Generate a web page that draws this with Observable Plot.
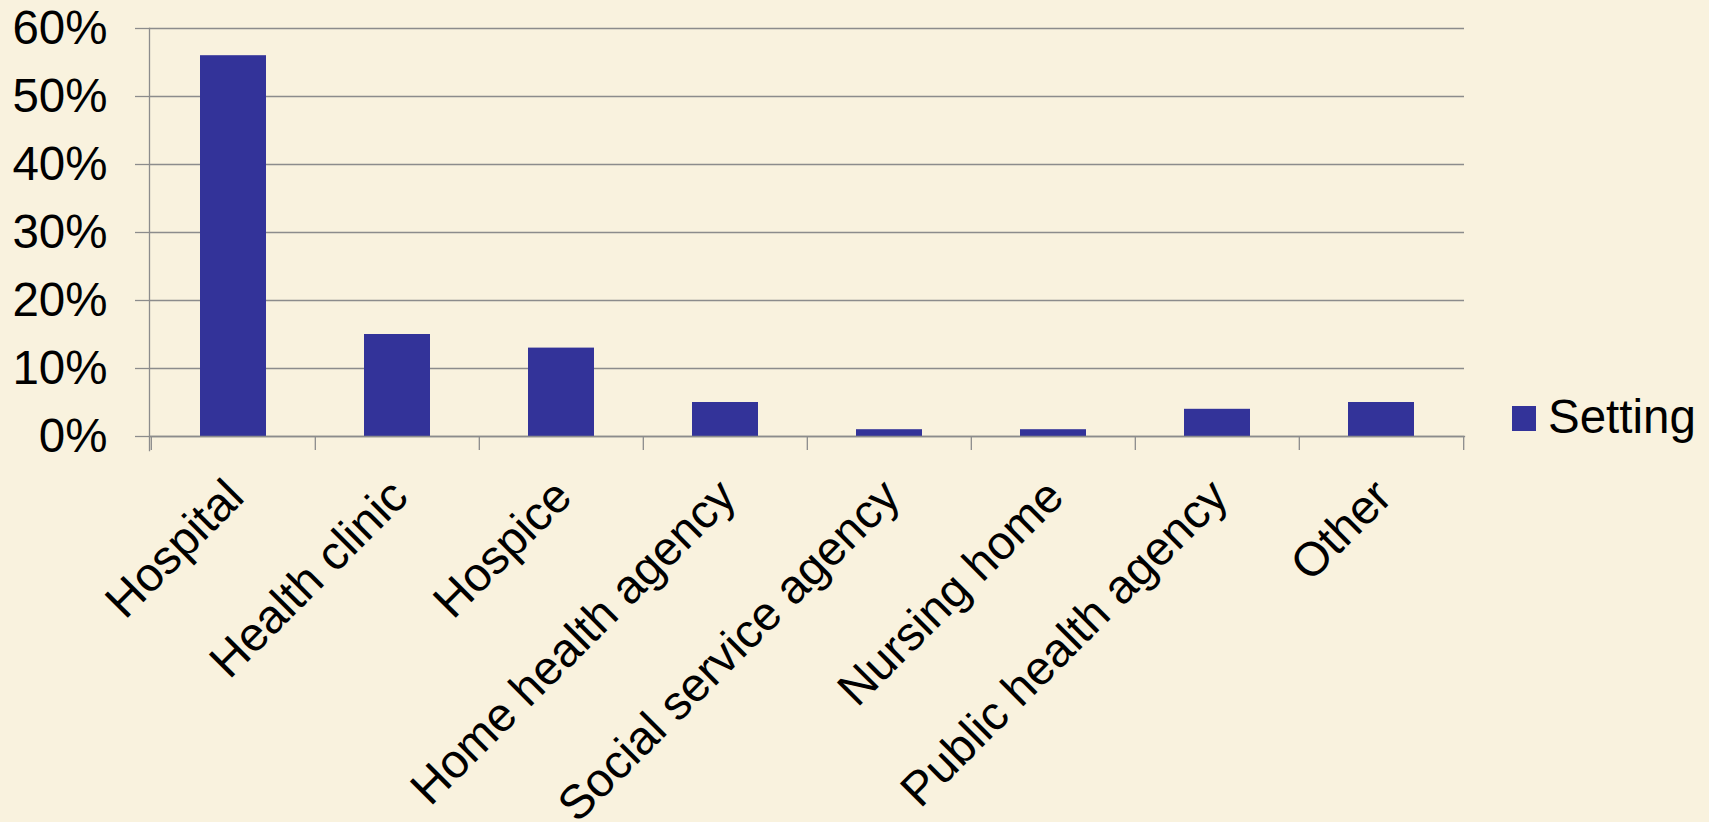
<!DOCTYPE html>
<html><head><meta charset="utf-8">
<script src="https://cdn.jsdelivr.net/npm/d3@7"></script>
<script src="https://cdn.jsdelivr.net/npm/@observablehq/plot@0.6"></script>
<style>
html,body{margin:0;padding:0;background:#F9F2DE;}
#wrap{position:relative;width:1709px;height:822px;font-family:"Liberation Sans",Arial,sans-serif;overflow:hidden;}
#wrap svg{display:block;}
.lg-swatch{position:absolute;left:1512px;top:406px;width:24px;height:25px;background:#333399;}
.lg-text{position:absolute;left:1548px;top:393px;font-size:47.5px;line-height:47.5px;color:#000;white-space:nowrap;}
</style></head><body><div id="wrap"></div>
<script>
const categories = ["Hospital","Health clinic","Hospice","Home health agency","Social service agency","Nursing home","Public health agency","Other"];
const values = [0.56,0.15,0.13,0.05,0.01,0.01,0.04,0.05];
const seriesName = "Setting";
const yTicks = [0,0.1,0.2,0.3,0.4,0.5,0.6];

const W = 1709, H = 822, mL = 149, mR = 245, mT = 28, mB = 386;
const step = (W - mL - mR) / categories.length;
const gray = "#8c8c8c";
const fs = 47.5;
const data = categories.map((c, i) => ({category: c, value: values[i]}));

const chart = Plot.plot({
  width: W, height: H,
  marginLeft: mL, marginRight: mR, marginTop: mT, marginBottom: mB,
  style: {background: "transparent", fontFamily: '"Liberation Sans", Arial, sans-serif', color: "#000"},
  x: {domain: categories, paddingInner: 0.6, paddingOuter: 0.3, axis: null},
  y: {domain: [0, 0.6], axis: null, label: null},
  marks: [
    Plot.gridY(yTicks, {stroke: gray, strokeOpacity: 1, strokeWidth: 1.3}),
    Plot.barY(data, {x: "category", y: "value", fill: "#333399"}),
    Plot.axisY(yTicks, {tickSize: 14, tickPadding: 28, tickFormat: d => Math.round(d * 100) + "%", fontSize: fs, stroke: gray, strokeWidth: 1.3, fill: "#000", label: null}),
    Plot.frame({anchor: "left", stroke: gray, strokeWidth: 1.3, insetBottom: -14}),
    Plot.frame({anchor: "bottom", stroke: gray, strokeWidth: 1.3}),
    Plot.tickX(categories, {x: d => d, dx: -step / 2, insetTop: H - mT - mB, insetBottom: -14, stroke: gray, strokeWidth: 1.3}),
    Plot.tickX(categories.slice(-1), {x: d => d, dx: step / 2, insetTop: H - mT - mB, insetBottom: -14, stroke: gray, strokeWidth: 1.3}),
    Plot.text(categories, {x: d => d, frameAnchor: "bottom", rotate: -45, textAnchor: "end", lineAnchor: "middle", dx: 2, dy: 52, fontSize: fs, fill: "#000"})
  ]
});
const wrap = document.getElementById("wrap");
wrap.appendChild(chart);
const sw = document.createElement("div"); sw.className = "lg-swatch"; wrap.appendChild(sw);
const lt = document.createElement("div"); lt.className = "lg-text"; lt.textContent = seriesName; wrap.appendChild(lt);
</script>
</body></html>
